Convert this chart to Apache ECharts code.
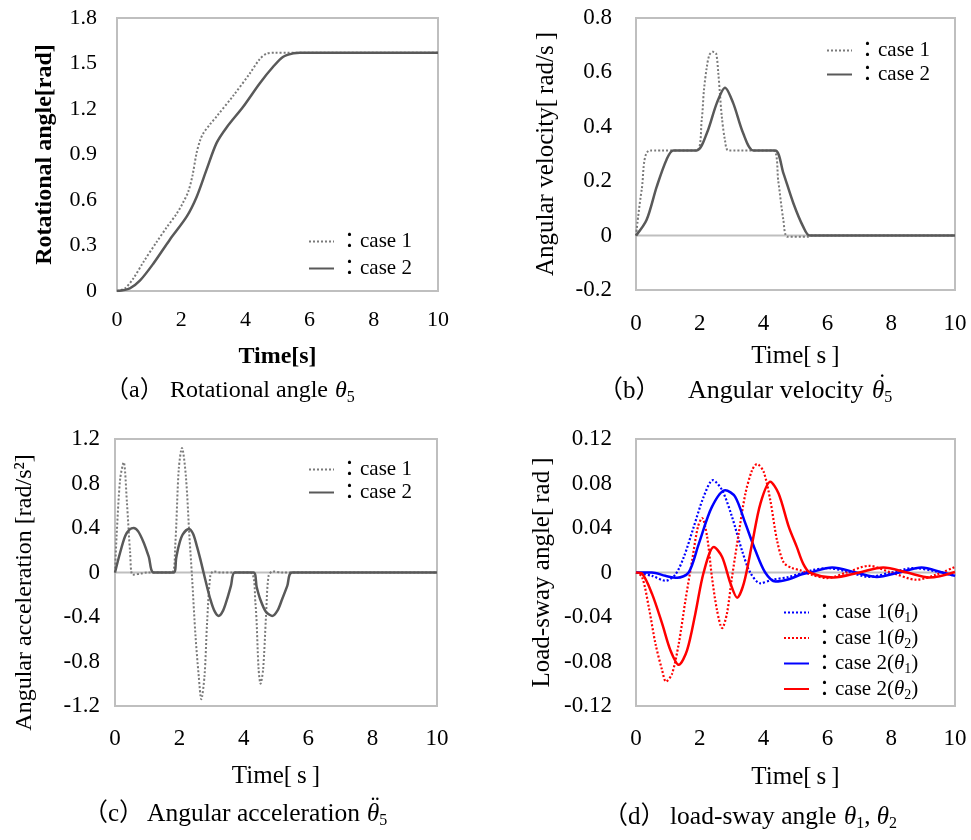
<!DOCTYPE html>
<html>
<head>
<meta charset="utf-8">
<script src="https://cdn.jsdelivr.net/npm/echarts@6/dist/echarts.min.js"></script>
<style>
  html, body { margin: 0; padding: 0; background: #fff; }
  #chart { width: 971px; height: 840px; }
</style>
</head>
<body>
<div id="chart"></div>
<script>
// (a) rotational angle [t, rad]
const rotCase1 = [[0,0],[0.25,0.018],[0.5,0.08],[0.82,0.19],[1.24,0.325],[1.55,0.42],[1.86,0.51],[2.05,0.58],[2.22,0.655],[2.35,0.76],[2.48,0.91],[2.6,1.0],[2.69,1.04],[2.9,1.1],[3.1,1.15],[3.63,1.29],[4.14,1.435],[4.45,1.53],[4.66,1.565],[4.9,1.571],[10,1.571]];
const rotCase2 = [[0,0],[0.4,0.018],[0.72,0.07],[1.13,0.18],[1.65,0.34],[2.17,0.49],[2.48,0.62],[2.79,0.8],[3.1,0.975],[3.42,1.08],[3.93,1.215],[4.45,1.37],[4.87,1.48],[5.18,1.545],[5.5,1.567],[5.7,1.571],[10,1.571]];

// (b) angular velocity [t, rad/s]
const velCase1 = [[0,0],[0.18,0.17],[0.44,0.313],[1.9,0.313],[2.06,0.425],[2.13,0.535],[2.22,0.62],[2.3,0.664],[2.4,0.676],[2.51,0.67],[2.58,0.597],[2.63,0.523],[2.69,0.437],[2.79,0.35],[2.9,0.313],[4.3,0.313],[4.46,0.2],[4.62,0.057],[4.75,-0.004],[5.4,-0.004],[5.5,0],[10,0]];
const velCase2 = [[0,0],[0.33,0.057],[0.65,0.18],[0.96,0.28],[1.17,0.313],[1.9,0.313],[2.22,0.376],[2.53,0.486],[2.79,0.544],[3.05,0.486],[3.36,0.376],[3.68,0.313],[4.36,0.313],[4.62,0.23],[4.93,0.12],[5.24,0.033],[5.45,0],[10,0]];

// (c) angular acceleration [t, rad/s^2]
const accCase1 = [[0,0],[0.05,0.33],[0.16,0.84],[0.27,0.99],[0.37,0.63],[0.47,0.18],[0.55,-0.02],[0.8,-0.01],[1.0,0],[1.77,0],[1.87,0.24],[1.98,0.93],[2.08,1.12],[2.2,0.87],[2.31,0.33],[2.39,-0.03],[2.5,-0.57],[2.6,-0.93],[2.68,-1.14],[2.78,-0.93],[2.86,-0.45],[2.96,-0.03],[3.06,0.01],[3.3,0],[4.2,0],[4.36,-0.27],[4.46,-0.87],[4.52,-1.0],[4.6,-0.87],[4.69,-0.39],[4.77,-0.03],[4.9,0.01],[5.2,0],[10,0]];
const accCase2 = [[0,0],[0.16,0.18],[0.32,0.33],[0.45,0.385],[0.58,0.4],[0.72,0.37],[0.89,0.27],[1.05,0.14],[1.2,0],[1.82,0],[1.9,0.13],[1.98,0.24],[2.1,0.34],[2.29,0.39],[2.42,0.35],[2.54,0.24],[2.65,0.12],[2.75,0],[2.86,-0.13],[2.96,-0.24],[3.08,-0.34],[3.22,-0.39],[3.36,-0.34],[3.48,-0.24],[3.6,-0.12],[3.72,0],[4.3,0],[4.4,-0.13],[4.51,-0.24],[4.68,-0.35],[4.88,-0.39],[5.05,-0.34],[5.19,-0.24],[5.35,-0.12],[5.5,0],[10,0]];

// (d) load-sway angles [t, rad]
const swayT1Case1 = [[0,0],[0.5,-0.003],[0.92,-0.0074],[1.23,-0.002],[1.5,0.014],[1.81,0.041],[2.12,0.068],[2.41,0.083],[2.7,0.074],[3.01,0.05],[3.32,0.02],[3.58,0],[3.9,-0.0097],[4.26,-0.0067],[4.79,-0.004],[5.15,-0.001],[5.5,0.002],[6.0,0.004],[6.6,0.001],[7.3,-0.004],[8.0,0],[8.7,0.004],[9.4,0.001],[10,-0.003]];
const swayT2Case1 = [[0,0],[0.19,-0.004],[0.4,-0.031],[0.61,-0.064],[0.82,-0.088],[0.94,-0.098],[1.13,-0.091],[1.34,-0.064],[1.55,-0.025],[1.76,0.011],[1.94,0.041],[2.07,0.049],[2.23,0.032],[2.38,-0.004],[2.54,-0.034],[2.7,-0.05],[2.85,-0.037],[3.01,-0.004],[3.22,0.035],[3.43,0.071],[3.64,0.092],[3.79,0.0975],[4.0,0.0906],[4.21,0.065],[4.42,0.029],[4.63,0.009],[4.89,0.004],[5.15,0.002],[5.5,-0.002],[6.0,-0.005],[6.6,0],[7.3,0.006],[8.0,0],[8.8,-0.0065],[9.4,-0.002],[10,0.005]];
const swayT1Case2 = [[0,0],[0.5,0],[0.92,-0.003],[1.29,-0.0047],[1.65,0],[1.97,0.026],[2.38,0.059],[2.8,0.074],[3.11,0.068],[3.43,0.044],[3.74,0.02],[4.05,0],[4.37,-0.008],[4.79,-0.006],[5.2,-0.0016],[5.45,0],[6.15,0.0045],[6.9,0],[7.55,-0.004],[8.25,0],[8.95,0.0045],[9.6,0],[10,-0.003]];
const swayT2Case2 = [[0,0],[0.19,-0.001],[0.5,-0.019],[0.82,-0.046],[1.08,-0.07],[1.34,-0.083],[1.6,-0.07],[1.86,-0.037],[2.12,0],[2.44,0.023],[2.7,0.014],[2.96,-0.0097],[3.17,-0.0226],[3.38,-0.0097],[3.64,0.026],[3.9,0.062],[4.21,0.0816],[4.47,0.071],[4.79,0.041],[5.04,0.023],[5.24,0.008],[5.45,0],[6.2,-0.0045],[7.0,0],[7.75,0.0045],[8.5,0],[9.2,-0.0045],[10,0.0005]];

const zeroLine = [[0,0],[10,0]];

const FONT = '"Liberation Serif", "Times New Roman", "Noto Sans CJK JP", serif';
const GRAY_DOT = '#7a7a7a';
const GRAY_SOLID = '#595959';
const BORDER = '#bfbfbf';

const chart = echarts.init(document.getElementById('chart'));

const grids = [
  { left: 117, top: 18, width: 321, height: 273 },
  { left: 636, top: 18, width: 319, height: 272 },
  { left: 115, top: 439, width: 322, height: 267 },
  { left: 636, top: 439, width: 319, height: 267 }
].map(g => Object.assign({ show: true, borderColor: BORDER, borderWidth: 2, backgroundColor: 'transparent' }, g));

function xAxisFor(i, bold, margin, gap, labelSize, nameSize) {
  return {
    type: 'value', gridIndex: i, min: 0, max: 10, interval: 2,
    axisLine: { show: false }, axisTick: { show: false }, splitLine: { show: false },
    axisLabel: { fontSize: labelSize, color: '#000', fontFamily: FONT, margin: margin },
    name: bold ? 'Time[s]' : 'Time[\u2009s\u2009]',
    nameLocation: 'middle', nameGap: gap,
    nameTextStyle: { fontSize: nameSize, color: '#000', fontFamily: FONT, fontWeight: bold ? 'bold' : 'normal' }
  };
}

function yAxisFor(i, min, max, interval, digits, name, bold, margin, gap, labelSize, nameSize, namePad) {
  return {
    type: 'value', gridIndex: i, min: min, max: max, interval: interval,
    axisLine: { show: false }, axisTick: { show: false }, splitLine: { show: false },
    axisLabel: {
      fontSize: labelSize, color: '#000', fontFamily: FONT, margin: margin,
      formatter: v => Math.abs(v) < 1e-9 ? '0' : v.toFixed(digits)
    },
    name: name, nameLocation: 'middle', nameGap: gap,
    nameTextStyle: {
      fontSize: nameSize, color: '#000', fontFamily: FONT, fontWeight: bold ? 'bold' : 'normal',
      padding: namePad || 0
    }
  };
}

function line(name, data, i, color, dotted, width) {
  return {
    name: name, type: 'line', data: data, xAxisIndex: i, yAxisIndex: i,
    symbol: 'none', showSymbol: false, smooth: 0.3, animation: false,
    lineStyle: { color: color, width: width, type: dotted ? [2, 2] : 'solid' },
    itemStyle: { color: color }
  };
}

function zero(i) {
  return {
    type: 'line', data: zeroLine, xAxisIndex: i, yAxisIndex: i, symbol: 'none',
    silent: true, animation: false, z: 1,
    lineStyle: { color: BORDER, width: 2 }
  };
}

const legendLabels = {
  a1: '：case 1', a2: '：case 2',
  b1: '：case 1', b2: '：case 2',
  c1: '：case 1', c2: '：case 2',
  d1: '：case 1({i|θ}{s|1})', d2: '：case 1({i|θ}{s|2})',
  d3: '：case 2({i|θ}{s|1})', d4: '：case 2({i|θ}{s|2})'
};

function legendFor(names, left, top, gap) {
  return {
    data: names, left: left, top: top, orient: 'vertical',
    itemWidth: 25, itemHeight: 14, itemGap: gap, selectedMode: false,
    itemStyle: { opacity: 0 },
    formatter: n => legendLabels[n],
    textStyle: {
      fontSize: 21, color: '#000', fontFamily: FONT,
      rich: {
        i: { fontSize: 21, fontStyle: 'italic', fontFamily: FONT, lineHeight: 26 },
        s: { fontSize: 14, fontFamily: FONT, verticalAlign: 'bottom', lineHeight: 14 }
      }
    }
  };
}

// caption pieces: label, text, math (italic theta + subscript)
function capText(str, x, y, size, align) {
  return {
    type: 'text', x: x, y: y, silent: true,
    style: {
      text: str, fontSize: size, fontFamily: FONT, fill: '#000',
      align: align || 'left', verticalAlign: 'middle',
      rich: {
        i: { fontSize: size, fontStyle: 'italic', fontFamily: FONT, lineHeight: 30, fill: '#000' },
        s: { fontSize: Math.round(size * 0.65), fontFamily: FONT, verticalAlign: 'bottom', lineHeight: 15, fill: '#000' }
      }
    }
  };
}

const graphics = [
  capText('（a）', 105, 391, 24), capText('Rotational angle', 170, 391, 24), capText('{i|θ}{s|5}', 335, 391, 24),
  capText('（b）', 598, 391, 25), capText('Angular velocity', 688, 391, 26), capText('{i|θ}{s|5}', 872, 391, 25),
  capText('˙', 878, 384, 25),
  capText('（c）', 83, 814, 25), capText('Angular acceleration', 147, 814, 25.5), capText('{i|θ}{s|5}', 367, 814, 25),
  capText('¨', 371, 807, 25),
  capText('（d）', 603, 817, 25), capText('load-sway angle', 670, 817, 25.5), capText('{i|θ}{s|1}, {i|θ}{s|2}', 844, 817, 25)
];

const option = {
  backgroundColor: '#fff',
  graphic: graphics,
  grid: grids,
  xAxis: [
    xAxisFor(0, true, 18, 54, 22, 24),
    xAxisFor(1, false, 22, 54, 23, 25),
    xAxisFor(2, false, 21, 58, 23, 25),
    xAxisFor(3, false, 21, 59, 23, 25)
  ],
  yAxis: [
    yAxisFor(0, 0, 1.8, 0.3, 1, 'Rotational angle[rad]', true, 20, 60, 22, 24),
    yAxisFor(1, -0.2, 0.8, 0.2, 1, 'Angular velocity[\u2009rad/s\u2009]', false, 24, 77, 23, 25),
    yAxisFor(2, -1.2, 1.2, 0.4, 1, 'Angular acceleration [rad/s²]', false, 15, 78, 23, 24, [0, 40, 0, 0]),
    yAxisFor(3, -0.12, 0.12, 0.04, 2, 'Load-sway angle[\u2009rad\u2009]', false, 24, 81, 23, 25)
  ],
  legend: [
    legendFor(['a1', 'a2'], 303, 226, 6),
    legendFor(['b1', 'b2'], 821, 35, 3),
    legendFor(['c1', 'c2'], 303, 454, 2),
    legendFor(['d1', 'd2', 'd3', 'd4'], 778, 597, 2)
  ],
  series: [
    line('a1', rotCase1, 0, GRAY_DOT, true, 2),
    line('a2', rotCase2, 0, GRAY_SOLID, false, 2.5),
    zero(1),
    line('b1', velCase1, 1, GRAY_DOT, true, 2),
    line('b2', velCase2, 1, GRAY_SOLID, false, 2.5),
    zero(2),
    line('c1', accCase1, 2, GRAY_DOT, true, 2),
    line('c2', accCase2, 2, GRAY_SOLID, false, 2.5),
    zero(3),
    line('d1', swayT1Case1, 3, '#0000ff', true, 2.2),
    line('d2', swayT2Case1, 3, '#ff0000', true, 2.2),
    line('d3', swayT1Case2, 3, '#0000ff', false, 2.5),
    line('d4', swayT2Case2, 3, '#ff0000', false, 2.5)
  ]
};

chart.setOption(option);
</script>
</body>
</html>
